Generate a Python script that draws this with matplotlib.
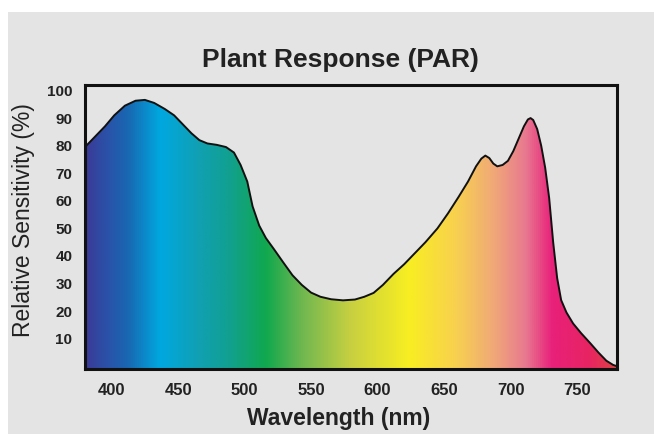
"""
Plant response (PAR) spectrum chart
"""

#%% Imports
import numpy as np
import matplotlib
matplotlib.use('Agg')
import matplotlib.pyplot as plt
from matplotlib.colors import LinearSegmentedColormap
from matplotlib.patches import Rectangle, Polygon

plt.rcParams['font.family'] = ['Liberation Sans', 'DejaVu Sans']

#%% Data
wavelength = [380, 388, 395, 402, 410, 418, 425, 432, 440, 447, 454, 460, 466,
              472, 479, 486, 492, 497, 502, 506, 511, 516, 522, 529, 536, 543,
              550, 557, 565, 574, 583, 590, 597, 604, 612, 620, 628, 636, 645,
              653, 661, 668, 674, 678, 681, 684, 687, 690, 694, 698, 702, 706,
              710, 713, 715, 717, 720, 723, 726, 729, 732, 735, 738, 742, 747,
              753, 760, 766, 772, 777, 780]
sensitivity = [79.5, 83.5, 87, 91, 94.5, 96.3, 96.6, 95.5, 93.3, 91, 87.5, 84.5,
               82, 80.8, 80.3, 79.5, 77.5, 73, 67, 58, 51, 46.5, 42.5, 37.7, 33,
               29.5, 26.7, 25.2, 24.3, 23.9, 24.2, 25.2, 26.6, 29.5, 33.5, 37, 41,
               45, 50, 55.5, 61.5, 67, 72.5, 75.3, 76.4, 75.5, 73.5, 72.5, 73,
               74.5, 78, 82.5, 87, 89.5, 90, 89.3, 86, 80, 72, 61, 45, 32, 24,
               19.5, 15.5, 12, 8.3, 5, 2, 0.5, 0]

x_ticks = [400, 450, 500, 550, 600, 650, 700, 750]
y_ticks = [10, 20, 30, 40, 50, 60, 70, 80, 90, 100]

# spectrum colours, position along 380-780 nm
spec_pos = [0.0, 0.04, 0.08, 0.14, 0.21, 0.27, 0.34, 0.41, 0.50, 0.61, 0.70,
            0.77, 0.83, 0.88, 0.95, 1.0]
spec_col = ['#3b3a98', '#2a52a8', '#1868b2', '#00a8e0', '#10a0b4', '#12a090',
            '#10a84e', '#72b850', '#c8d040', '#f8ee22', '#f8d050', '#f0a878',
            '#e87890', '#e8207a', '#e82462', '#dd4444']

#%% Figure
bg = '#e4e4e4'
fig = plt.figure(figsize=(6.54, 4.34), dpi=100, facecolor='white')
fig.patches.append(Rectangle((8 / 654, 0), 1, 1 - 12 / 434, transform=fig.transFigure,
                             facecolor=bg, edgecolor='none', zorder=-10))
ax = fig.add_axes([85 / 654, 1 - 369 / 434, 532 / 654, 284 / 434])
ax.set_facecolor(bg)

cmap = LinearSegmentedColormap.from_list('spec', list(zip(spec_pos, spec_col)))
grad = np.linspace(0, 1, 512).reshape(1, -1)
img = ax.imshow(grad, cmap=cmap, aspect='auto', extent=[380, 780, -1, 102],
                interpolation='bilinear', zorder=1)
poly = Polygon(np.column_stack([[380] + wavelength + [780], [-1] + sensitivity + [-1]]),
               closed=True, transform=ax.transData)
img.set_clip_path(poly)
ax.plot(wavelength, sensitivity, color='#111111', lw=1.4, zorder=3,
        solid_joinstyle='round')

ax.set_xlim(380, 780)
ax.set_ylim(-1, 102)
ax.set_xticks(x_ticks)
ax.set_yticks(y_ticks)
ax.tick_params(length=0, labelsize=12, pad=10, labelcolor='#222222')
ax.tick_params(axis='y', labelsize=11, pad=9)
for lbl in ax.get_xticklabels() + ax.get_yticklabels():
    lbl.set_fontweight('bold')
for s in ax.spines.values():
    s.set_linewidth(2.2)
    s.set_color('#111111')
    s.set_zorder(5)

fig.text(340 / 654, 1 - 60 / 434, 'Plant Response (PAR)', ha='center', va='center',
         fontsize=19, fontweight='bold', color='#222222')
fig.text(339 / 654, 1 - 418 / 434, 'Wavelength (nm)', ha='center', va='center',
         fontsize=16.5, fontweight='bold', color='#222222')
fig.text(24 / 654, 1 - 220 / 434, 'Relative Sensitivity (%)', ha='center', va='center',
         rotation=90, fontsize=16.5, color='#222222')

fig.savefig('out.png', dpi=100, facecolor='white')
